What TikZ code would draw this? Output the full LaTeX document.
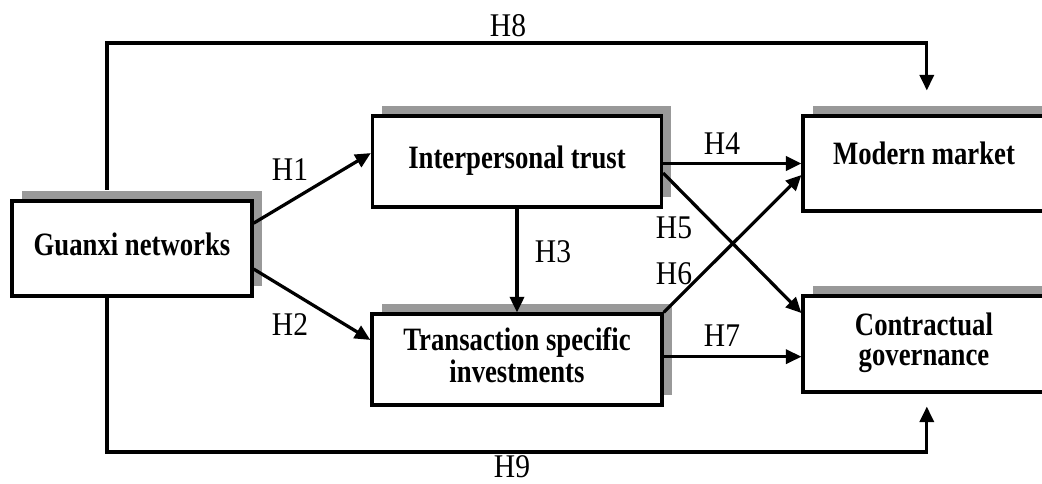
\documentclass[tikz,border=0pt]{standalone}
\usepackage{fontspec}
\setmainfont{Liberation Serif}
\usetikzlibrary{arrows.meta, shadows, positioning}
\newcommand\tallbox[1]{\scalebox{1}[1.22]{\begin{tabular}{@{}c@{}}#1\end{tabular}}}
\newcommand\tallhyp[1]{\scalebox{1}[1.12]{#1}}
\tikzset{
  factor/.style = {
    draw, line width=2.3pt, fill=white, align=center, inner sep=0pt,
    font=\fontsize{19}{17.5}\selectfont\bfseries,
    drop shadow={shadow xshift=7pt, shadow yshift=7pt, fill=gray!80, opacity=1}
  },
  path/.style = {line width=2.3pt, -{Triangle[length=11pt,width=10pt]}},
  hyp/.style = {inner sep=0pt, font=\fontsize{21}{24}\selectfont}
}

\begin{document}
\begin{tikzpicture}[x=0.025cm, y=-0.025cm]

  \clip (0,0) rectangle (1042,484);

  % Constructs
  \node[factor, minimum width=170.7pt, minimum height=67.6pt] (guanxi) at (132,248.5) {\tallbox{Guanxi networks}};
  \node[factor, minimum width=205.6pt, minimum height=64.7pt] (trust) at (517,161.5) {\tallbox{Interpersonal trust}};
  \node[factor, minimum width=206.3pt, minimum height=64.7pt] (tsi) at (517,359.5) {\tallbox{Transaction specific\\investments}};
  \node[factor, minimum width=172pt, minimum height=67.6pt, text depth=14pt] (market) at (924,163.5) {\tallbox{Modern market}};
  \node[factor, minimum width=172pt, minimum height=68.3pt] (contract) at (924,344) {\tallbox{Contractual\\governance}};

  % H1, H2
  \draw[path] ([yshift=18pt]guanxi.east) -- ([yshift=6pt]trust.west);
  \draw[path] ([yshift=-14.6pt]guanxi.east) -- ([yshift=13.9pt]tsi.west);
  \node[hyp] (h1) at (290,170) {\tallhyp{H1}};
  \node[hyp] (h2) at (290,325) {\tallhyp{H2}};

  % H3
  \draw[path] (trust.south) -- (trust.south |- tsi.north);
  \node[hyp] (h3) at (553,252) {\tallhyp{H3}};

  % H4 to H7
  \draw[path] (trust.east |- market.west) -- (market.west);
  \draw[path] ([yshift=-8.2pt]trust.east) -- ([yshift=22pt]contract.west);
  \draw[path] (tsi.north east) -- ([yshift=-8.2pt]market.west);
  \coordinate (h7s) at ([yshift=2pt]tsi.east);
  \draw[path] (h7s) -- (h7s -| contract.west);
  \node[hyp] (h4) at (722,144) {\tallhyp{H4}};
  \node[hyp] (h5) at (674,228) {\tallhyp{H5}};
  \node[hyp] (h6) at (674,274) {\tallhyp{H6}};
  \node[hyp] (h7) at (722,336) {\tallhyp{H7}};

  % H8 over the top
  \coordinate (h8) at (517,43);
  \draw[path] ([xshift=-17.8pt,yshift=7pt]guanxi.north) |- (h8) -| ([xshift=2pt,yshift=17pt]market.north);
  \node[hyp] (h8l) at (508,26) {\tallhyp{H8}};

  % H9 along the bottom
  \coordinate (h9) at (517,452);
  \draw[path] ([xshift=-17.8pt]guanxi.south) |- (h9) -| ([xshift=2pt,yshift=-9.2pt]contract.south);
  \node[hyp] (h9l) at (512,467) {\tallhyp{H9}};

\end{tikzpicture}
\end{document}
